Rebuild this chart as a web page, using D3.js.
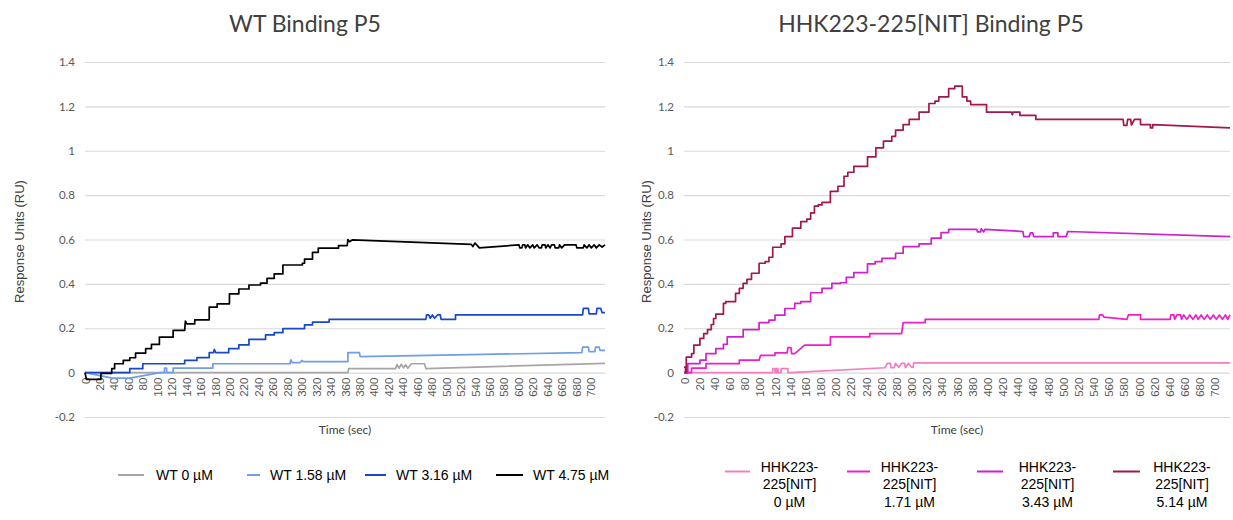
<!DOCTYPE html>
<html>
<head>
<meta charset="utf-8">
<script src="https://cdn.jsdelivr.net/npm/d3@7"></script>
<style>
  body { margin: 0; background: #fff; }
  svg { display: block; }
</style>
</head>
<body>
<svg id="chart" width="1233" height="520"></svg>
<script>
// ---- Chart text ----
const chartTitles = ["WT Binding P5", "HHK223-225[NIT] Binding P5"];
const yAxisTitle = "Response Units (RU)";
const xAxisTitle = "Time (sec)";

// ---- Axis ticks ----
const timeTicks = [0, 20, 40, 60, 80, 100, 120, 140, 160, 180, 200, 220, 240, 260, 280, 300,
  320, 340, 360, 380, 400, 420, 440, 460, 480, 500, 520, 540, 560, 580, 600, 620, 640, 660, 680, 700];
const responseTicks = [-0.2, 0, 0.2, 0.4, 0.6, 0.8, 1, 1.2, 1.4];
const responseTickLabels = ["-0.2", "0", "0.2", "0.4", "0.6", "0.8", "1", "1.2", "1.4"];

// ---- WT series: [time (sec), response (RU)] ----
const wtNames = ["WT 0 \u00b5M", "WT 1.58 \u00b5M", "WT 3.16 \u00b5M", "WT 4.75 \u00b5M"];

const wt0 = [[0,0],[364,0],[365,0.018],[430,0.018],[432,0.036],[435,0.02],[438,0.038],[441,0.022],
  [444,0.036],[447,0.02],[452,0.04],[470,0.04],[472,0.018],[720,0.042]];

const wt158 = [[0,0],[38,-0.025],[62,-0.025],[104,0],[110,0],[110,0.02],[113,0.02],[113,0],[122,0],
  [122,0.02],[177,0.02],[177,0.04],[284,0.04],[285,0.058],[287,0.045],[298,0.045],[300,0.055],
  [302,0.05],[364,0.05],[364,0.09],[380,0.09],[381,0.072],[688,0.09],[689,0.115],[697,0.115],
  [698,0.095],[706,0.095],[707,0.115],[712,0.115],[713,0.1],[720,0.1]];

const wt316 = [[0,0],[62,0],[62,0.018],[80,0.018],[80,0.04],[138,0.04],[138,0.055],[155,0.055],
  [155,0.068],[172,0.068],[172,0.09],[178,0.09],[179,0.105],[181,0.09],[199,0.09],[199,0.108],
  [213,0.108],[213,0.125],[227,0.125],[227,0.15],[250,0.15],[250,0.17],[262,0.17],[262,0.18],
  [274,0.18],[274,0.198],[304,0.198],[304,0.215],[315,0.215],[315,0.228],[338,0.228],[338,0.24],
  [472,0.24],[473,0.26],[476,0.26],[478,0.245],[481,0.26],[484,0.245],[488,0.26],[492,0.26],
  [493,0.24],[513,0.24],[513,0.26],[689,0.26],[690,0.29],[697,0.29],[698,0.265],[708,0.265],
  [709,0.29],[714,0.29],[716,0.27],[720,0.27]];

const wt475 = [[0,0],[2,-0.03],[22,-0.03],[22,-0.003],[37,-0.003],[37,0.018],[41,0.018],[41,0.04],
  [53,0.04],[53,0.055],[62,0.055],[62,0.067],[70,0.067],[70,0.088],[84,0.088],[84,0.108],
  [92,0.108],[92,0.127],[103,0.127],[103,0.16],[122,0.16],[122,0.19],[138,0.19],[139,0.232],
  [141,0.22],[152,0.22],[152,0.238],[172,0.238],[172,0.295],[183,0.295],[183,0.31],[200,0.31],
  [200,0.355],[213,0.355],[213,0.377],[227,0.377],[227,0.395],[243,0.395],[243,0.403],[252,0.403],
  [252,0.425],[262,0.425],[262,0.445],[274,0.445],[274,0.485],[301,0.485],[301,0.493],[304,0.493],
  [304,0.512],[315,0.512],[315,0.542],[323,0.542],[323,0.561],[351,0.561],[351,0.572],[363,0.572],
  [364,0.6],[366,0.59],[370,0.598],[535,0.578],[537,0.568],[540,0.584],[546,0.562],[601,0.576],
  [602,0.562],[605,0.562],[606,0.576],[609,0.576],[610,0.562],[613,0.576],[616,0.562],[620,0.576],
  [622,0.562],[626,0.576],[629,0.562],[632,0.562],[633,0.576],[637,0.576],[638,0.562],[641,0.576],
  [644,0.562],[646,0.576],[650,0.576],[651,0.562],[656,0.562],[657,0.576],[660,0.562],[664,0.576],
  [680,0.576],[681,0.562],[690,0.562],[691,0.576],[695,0.562],[698,0.576],[701,0.562],[705,0.576],
  [708,0.562],[712,0.576],[716,0.566],[720,0.576]];

// ---- HHK223-225[NIT] series: [time (sec), response (RU)] ----
const hhkNames = [
  ["HHK223-", "225[NIT]", "0 \u00b5M"],
  ["HHK223-", "225[NIT]", "1.71 \u00b5M"],
  ["HHK223-", "225[NIT]", "3.43 \u00b5M"],
  ["HHK223-", "225[NIT]", "5.14 \u00b5M"]
];

const hhk0 = [[0,0],[117,0],[117,0.018],[120,0.018],[120,0],[122,0],[122,0.018],[124,0.018],
  [124,0],[128,0],[128,0.018],[137,0.018],[137,0],[140,0],[265,0.022],[268,0.042],[272,0.042],
  [273,0.022],[277,0.022],[279,0.042],[283,0.024],[287,0.042],[291,0.042],[292,0.022],[296,0.042],
  [300,0.024],[302,0.024],[303,0.044],[720,0.044]];

const hhk171 = [[0,0],[10,0],[10,0.02],[29,0.02],[29,0.041],[73,0.041],[73,0.056],[99,0.056],
  [101,0.078],[120,0.078],[120,0.089],[136,0.089],[137,0.113],[141,0.113],[142,0.086],[146,0.086],
  [159,0.124],[193,0.124],[193,0.161],[245,0.161],[245,0.176],[287,0.176],[289,0.225],[318,0.225],
  [318,0.24],[547,0.24],[548,0.26],[552,0.26],[554,0.25],[584,0.24],[586,0.26],[602,0.26],
  [602,0.24],[641,0.24],[642,0.26],[646,0.26],[647,0.24],[650,0.26],[655,0.26],[656,0.24],
  [659,0.26],[663,0.24],[667,0.26],[671,0.24],[675,0.26],[678,0.24],[682,0.26],[686,0.24],
  [690,0.26],[694,0.24],[698,0.26],[702,0.24],[706,0.26],[710,0.24],[714,0.26],[717,0.24],[720,0.26]];

const hhk343 = [[0,0],[5,0],[5,0.041],[21,0.041],[21,0.056],[29,0.056],[29,0.086],[42,0.086],
  [42,0.108],[52,0.108],[52,0.128],[57,0.128],[57,0.161],[78,0.161],[78,0.194],[99,0.194],
  [99,0.225],[112,0.225],[112,0.237],[120,0.237],[120,0.259],[133,0.259],[133,0.289],[146,0.289],
  [146,0.312],[154,0.312],[154,0.32],[167,0.32],[167,0.36],[182,0.36],[182,0.38],[195,0.38],
  [195,0.402],[206,0.402],[206,0.405],[214,0.405],[214,0.429],[224,0.429],[224,0.451],[242,0.451],
  [242,0.49],[252,0.49],[252,0.5],[261,0.5],[261,0.515],[279,0.515],[279,0.538],[289,0.538],
  [289,0.568],[310,0.568],[310,0.58],[326,0.58],[326,0.606],[339,0.606],[339,0.631],[349,0.631],
  [349,0.646],[386,0.646],[387,0.634],[391,0.634],[392,0.648],[395,0.634],[397,0.646],[447,0.636],
  [448,0.613],[455,0.613],[457,0.63],[460,0.63],[461,0.613],[487,0.613],[487,0.63],[493,0.63],
  [493,0.613],[504,0.613],[506,0.636],[720,0.613]];

const hhk514 = [[0,0.025],[2,0.025],[2,0],[3,0],[3,0.07],[10,0.07],[10,0.086],[13,0.086],[13,0.124],
  [21,0.124],[21,0.154],[26,0.154],[26,0.176],[31,0.176],[31,0.194],[36,0.194],[36,0.217],
  [39,0.217],[39,0.244],[42,0.244],[42,0.264],[52,0.264],[52,0.312],[55,0.312],[55,0.32],
  [68,0.32],[68,0.357],[73,0.357],[73,0.38],[78,0.38],[78,0.402],[83,0.402],[83,0.42],[89,0.42],
  [89,0.448],[99,0.448],[99,0.493],[107,0.493],[107,0.5],[112,0.5],[112,0.52],[117,0.52],
  [117,0.565],[128,0.565],[128,0.58],[133,0.58],[133,0.613],[143,0.613],[143,0.651],[154,0.651],
  [154,0.681],[162,0.681],[162,0.692],[167,0.692],[167,0.72],[172,0.72],[172,0.75],[177,0.75],
  [177,0.756],[182,0.756],[182,0.767],[193,0.767],[193,0.817],[203,0.817],[203,0.84],[211,0.84],
  [211,0.885],[216,0.885],[216,0.903],[224,0.903],[224,0.93],[242,0.93],[242,0.972],[253,0.972],
  [253,1.013],[263,1.013],[263,1.043],[274,1.043],[274,1.065],[279,1.065],[279,1.093],[289,1.093],
  [289,1.118],[297,1.118],[297,1.141],[310,1.141],[310,1.174],[323,1.174],[323,1.213],[331,1.213],
  [331,1.224],[336,1.224],[336,1.243],[349,1.243],[349,1.28],[357,1.28],[357,1.291],[367,1.291],
  [367,1.243],[373,1.243],[373,1.224],[378,1.224],[378,1.208],[399,1.208],[399,1.174],[432,1.174],
  [433,1.162],[434,1.174],[443,1.174],[443,1.159],[464,1.159],[464,1.141],[579,1.141],[580,1.114],
  [584,1.114],[585,1.141],[589,1.141],[590,1.116],[594,1.141],[602,1.141],[602,1.118],[615,1.118],
  [615,1.103],[618,1.103],[618,1.118],[720,1.103]];

const wtSeries = [wt0, wt158, wt316, wt475];
const hhkSeries = [hhk0, hhk171, hhk343, hhk514];

// ---- Colours ----
const wtColors = ["#a6a6a6", "#6e9ee6", "#1848c8", "#000000"];
const hhkColors = ["#f27ec0", "#f01ec8", "#d01fd2", "#a3174f"];

// ---- Layout ----
const W = 1233, H = 520;
const yTop = 62, yBottom = 417;
const panels = [
  { x0: 85, x1: 605, title: chartTitles[0], titleX: 305, yTitleX: 24,
    series: wtSeries, colors: wtColors },
  { x0: 684, x1: 1230, title: chartTitles[1], titleX: 931, yTitleX: 651,
    series: hhkSeries, colors: hhkColors }
];

const svg = d3.select("#chart");
svg.append("rect").attr("width", W).attr("height", H).attr("fill", "#fff");

const calibri = "Lato, 'Open Sans', sans-serif";
const arial = "'Liberation Sans', Arial, sans-serif";

panels.forEach(p => {
  const x = d3.scaleLinear().domain([0, 720]).range([p.x0, p.x1]);
  const y = d3.scaleLinear().domain([-0.2, 1.4]).range([yBottom, yTop]);
  const g = svg.append("g");

  // Title
  g.append("text")
    .attr("x", p.titleX).attr("y", 32)
    .attr("text-anchor", "middle")
    .attr("font-family", calibri).attr("font-size", 23)
    .attr("fill", "#404040")
    .text(p.title);

  // Horizontal gridlines + response labels
  const yAxis = g.append("g")
    .attr("transform", `translate(${p.x0},0)`)
    .call(d3.axisLeft(y)
      .tickValues(responseTicks)
      .tickSize(-(p.x1 - p.x0))
      .tickPadding(10)
      .tickFormat((d, i) => responseTickLabels[i]));
  yAxis.select(".domain").remove();
  yAxis.selectAll(".tick line").attr("stroke", "#d9d9d9").attr("stroke-width", 1.2);
  yAxis.selectAll(".tick text")
    .attr("font-family", calibri).attr("font-size", 11.5).attr("fill", "#595959");

  // Time labels hanging from the zero line
  const xAxis = g.append("g")
    .attr("transform", `translate(0,${y(0)})`)
    .call(d3.axisBottom(x).tickValues(timeTicks).tickSize(0).tickFormat(d => String(d)));
  xAxis.select(".domain").remove();
  xAxis.selectAll(".tick text")
    .attr("transform", "rotate(-90)")
    .attr("text-anchor", "end")
    .attr("x", -5).attr("y", 0).attr("dy", "0.35em")
    .attr("font-family", arial).attr("font-size", 11.5).attr("fill", "#595959");

  // Axis titles
  g.append("text")
    .attr("x", (p.x0 + p.x1) / 2).attr("y", 434)
    .attr("text-anchor", "middle")
    .attr("font-family", calibri).attr("font-size", 12).attr("fill", "#404040")
    .text(xAxisTitle);
  g.append("text")
    .attr("transform", `translate(${p.yTitleX},${(yTop + yBottom) / 2 + 2}) rotate(-90)`)
    .attr("text-anchor", "middle")
    .attr("font-family", arial).attr("font-size", 13).attr("fill", "#404040")
    .text(yAxisTitle);

  // Response curves
  const line = d3.line().x(d => x(d[0])).y(d => y(d[1]));
  p.series.forEach((s, i) => {
    g.append("path")
      .datum(s)
      .attr("d", line)
      .attr("fill", "none")
      .attr("stroke", p.colors[i])
      .attr("stroke-width", 1.7)
      .attr("stroke-linejoin", "round");
  });
});

// ---- Legends ----
const wtLegendLayout = [
  { lx0: 118, lx1: 144, tx: 156 },
  { lx0: 247, lx1: 260, tx: 270 },
  { lx0: 365, lx1: 386, tx: 396 },
  { lx0: 496, lx1: 523, tx: 533 }
];
const wtLegend = svg.append("g");
wtNames.forEach((name, i) => {
  const L = wtLegendLayout[i];
  wtLegend.append("line")
    .attr("x1", L.lx0).attr("x2", L.lx1).attr("y1", 475).attr("y2", 475)
    .attr("stroke", wtColors[i]).attr("stroke-width", 2);
  wtLegend.append("text")
    .attr("x", L.tx).attr("y", 480)
    .attr("font-family", arial).attr("font-size", 14).attr("fill", "#000")
    .text(name);
});

const hhkLegendLayout = [
  { lx0: 725, lx1: 750, tx: 789.5 },
  { lx0: 847, lx1: 870, tx: 909.5 },
  { lx0: 977, lx1: 1003, tx: 1047.5 },
  { lx0: 1113, lx1: 1140, tx: 1182 }
];
const hhkLegend = svg.append("g");
hhkNames.forEach((lines, i) => {
  const L = hhkLegendLayout[i];
  hhkLegend.append("line")
    .attr("x1", L.lx0).attr("x2", L.lx1).attr("y1", 471.5).attr("y2", 471.5)
    .attr("stroke", hhkColors[i]).attr("stroke-width", 2);
  const t = hhkLegend.append("text")
    .attr("text-anchor", "middle")
    .attr("font-family", arial).attr("font-size", 14).attr("fill", "#000");
  lines.forEach((txt, k) => {
    t.append("tspan").attr("x", L.tx).attr("y", 472 + k * 17.3).text(txt);
  });
});
</script>
</body>
</html>
